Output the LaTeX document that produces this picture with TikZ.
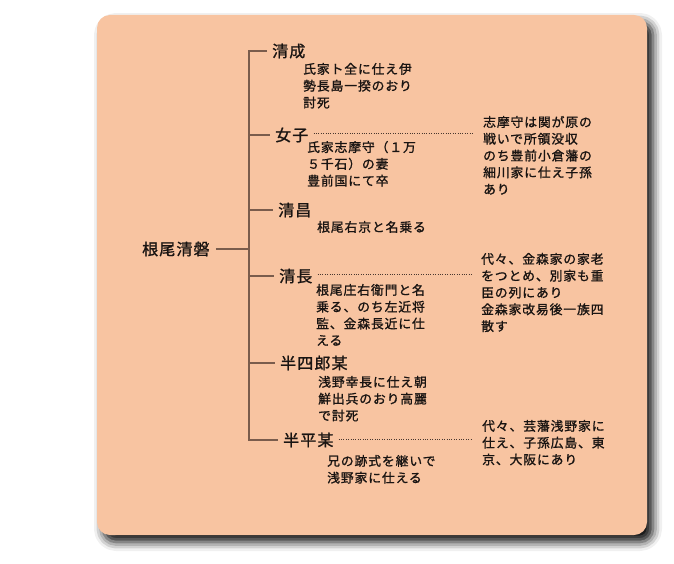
\documentclass[tikz,border=0pt]{standalone}
\usepackage{fontspec}
\newfontfamily\jpname[LetterSpace=7,FakeBold=1.2]{Noto Sans CJK JP}
\newfontfamily\jpnote[LetterSpace=7,FakeBold=1.2]{Noto Sans CJK JP}
\usetikzlibrary{shadows.blur}
\definecolor{panel}{RGB}{248,196,161}
\definecolor{stem}{RGB}{122,92,76}
\definecolor{ink}{RGB}{25,20,18}
\begin{document}
\begin{tikzpicture}[x=1pt,y=-1pt,
    person/.style={anchor=west,inner xsep=5pt,inner ysep=0pt,text=ink,
      font=\jpname\fontsize{16}{18}\selectfont},
    remark/.style={anchor=north west,inner sep=0pt,align=left,text=ink,
      font=\jpnote\fontsize{12.8}{16.8}\selectfont},
    stemline/.style={draw=stem,line width=1.3pt},
    linkline/.style={draw=stem!60!black,line width=0.9pt,dash pattern=on 0.9pt off 1.5pt,shorten >=9pt}]
  \useasboundingbox (0,0) rectangle (674,564);
  \path[fill=panel,rounded corners=13pt,
    blur shadow={shadow xshift=6pt,shadow yshift=-7pt,shadow blur radius=9pt,shadow opacity=95}]
    (97,15) rectangle (647,535);

  \coordinate (trunk) at (249,0);
  \node[person,inner xsep=6pt] (root) at (136,249) {根尾清磐};

  \node[person] (n1) at (267,51) {清成};
  \node[person] (n2) at (270,135) {女子};
  \node[person] (n3) at (273,210) {清昌};
  \node[person] (n4) at (274,276) {清長};
  \node[person] (n5) at (275,363) {半四郎某};
  \node[person] (n6) at (278,440) {半平某};

  \node[remark] (d1) at (303,62.8) {氏家ト全に仕え伊\\勢長島一揆のおり\\討死};
  \node[remark] (d2) at (307,140.8) {氏家志摩守（１万\\５千石）の妻\\豊前国にて卒};
  \node[remark] (d3) at (317,220.8) {根尾右京と名乗る};
  \node[remark] (d4) at (316,283.8) {根尾庄右衛門と名\\乗る、のち左近将\\監、金森長近に仕\\える};
  \node[remark] (d5) at (318,375.8) {浅野幸長に仕え朝\\鮮出兵のおり高麗\\で討死};
  \node[remark] (d6) at (327,454.8) {兄の跡式を継いで\\浅野家に仕える};

  \node[remark] (r2) at (483,115.8) {志摩守は関が原の\\戦いで所領没収\\のち豊前小倉藩の\\細川家に仕え子孫\\あり};
  \node[remark] (r4) at (481,252.8) {代々、金森家の家老\\をつとめ、別家も重\\臣の列にあり\\金森家改易後一族四\\散す};
  \node[remark] (r6) at (482,419.8) {代々、芸藩浅野家に\\仕え、子孫広島、東\\京、大阪にあり};

  \draw[stemline] (root) -- (root -| trunk);
  \draw[stemline] (n1) -- (n1 -| trunk) -- (n6 -| trunk) -- (n6);
  \foreach \n in {n2,n3,n4,n5}
    \draw[stemline] (\n -| trunk) -- (\n);

  \draw[linkline] ([yshift=2pt]n2.east) -- ([yshift=2pt]n2.east -| r2.west);
  \draw[linkline] ([yshift=2pt]n4.east) -- ([yshift=2pt]n4.east -| r4.west);
  \draw[linkline] ([yshift=1pt]n6.east) -- ([yshift=1pt]n6.east -| r6.west);
\end{tikzpicture}
\end{document}
